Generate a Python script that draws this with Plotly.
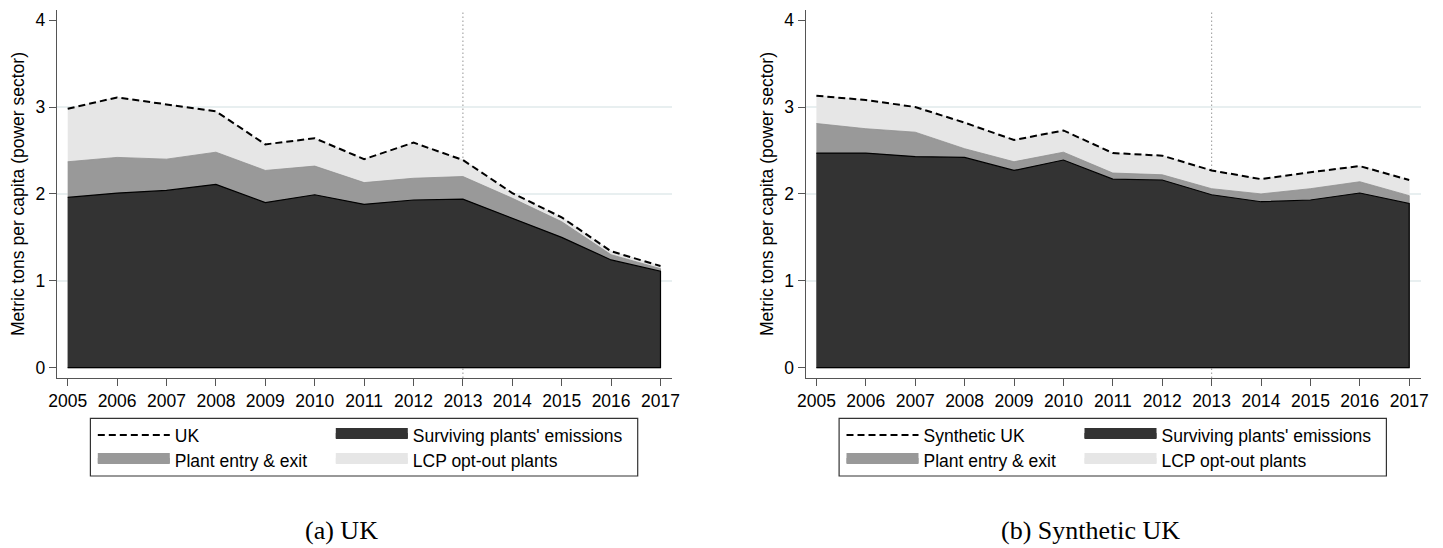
import plotly.graph_objects as go

# ---------------- data ----------------
years = [2005, 2006, 2007, 2008, 2009, 2010, 2011, 2012, 2013, 2014, 2015, 2016, 2017]
year_labels = [str(y) for y in years]
y_tick_values = [0, 1, 2, 3, 4]
y_tick_labels = ["0", "1", "2", "3", "4"]
grid_values = [1, 2, 3]
treatment_year = 2013

# cumulative levels (metric tons per capita, power sector)
uk_surviving = [1.96, 2.01, 2.04, 2.11, 1.90, 1.99, 1.88, 1.93, 1.94, 1.72, 1.50, 1.24, 1.11]
uk_with_entry_exit = [2.37, 2.42, 2.40, 2.48, 2.27, 2.32, 2.13, 2.18, 2.20, 1.95, 1.68, 1.30, 1.14]
uk_total = [2.98, 3.11, 3.03, 2.95, 2.57, 2.64, 2.40, 2.59, 2.39, 2.01, 1.73, 1.34, 1.17]

syn_surviving = [2.47, 2.47, 2.43, 2.42, 2.27, 2.39, 2.17, 2.16, 1.99, 1.91, 1.93, 2.01, 1.89]
syn_with_entry_exit = [2.81, 2.75, 2.71, 2.52, 2.37, 2.48, 2.24, 2.22, 2.06, 2.00, 2.06, 2.14, 1.98]
syn_total = [3.13, 3.08, 3.00, 2.82, 2.62, 2.73, 2.47, 2.44, 2.27, 2.17, 2.25, 2.32, 2.16]

line_names = ["UK", "Synthetic UK"]
label_surviving = "Surviving plants' emissions"
label_entry_exit = "Plant entry & exit"
label_opt_out = "LCP opt-out plants"
captions = ["(a) UK", "(b) Synthetic UK"]
y_title = "Metric tons per capita (power sector)"

# ---------------- styles ----------------
W, H = 1443, 548
FONT = "Liberation Sans, Arial, sans-serif"
SERIF = "Liberation Serif, Times New Roman, serif"
FS = 17.5
C_DARK = "#333333"
C_MID = "#999999"
C_LIGHT = "#e6e6e6"
C_GRID = "#e8eff0"
C_AXIS = "#555555"


def fx(px):
    return px / W


def fy(py):
    return 1 - py / H


panel_left = [57.0, 805.7]
panel_width = 615.0
panel_top, panel_bottom = 10.0, 378.0
x_first_px, year_step_px = 10.7, 49.4
y_zero_px, unit_px = 367.7, 86.9

x_lo = years[0] - x_first_px / year_step_px
x_hi = x_lo + panel_width / year_step_px
y_lo = -(panel_bottom - y_zero_px) / unit_px
y_hi = (y_zero_px - panel_top) / unit_px

fig = go.Figure()

panels = [
    (uk_total, uk_with_entry_exit, uk_surviving, line_names[0]),
    (syn_total, syn_with_entry_exit, syn_surviving, line_names[1]),
]

for i, (total, mid, surv, lname) in enumerate(panels):
    xa = "x" if i == 0 else "x2"
    ya = "y" if i == 0 else "y2"
    leg_top = "legend" if i == 0 else "legend3"
    leg_bot = "legend2" if i == 0 else "legend4"
    poly_x = years + years[::-1]
    zeros = [0] * len(years)
    for level, fillc, linec, lw in [
        (total, C_LIGHT, C_LIGHT, 0.8),
        (mid, C_MID, "#8f8f8f", 0.8),
        (surv, C_DARK, "#000000", 1.2),
    ]:
        fig.add_trace(go.Scatter(
            x=poly_x, y=level + zeros, xaxis=xa, yaxis=ya,
            mode="lines", fill="toself", fillcolor=fillc,
            line=dict(color=linec, width=lw), showlegend=False, hoverinfo="skip"))
    fig.add_trace(go.Scatter(
        x=years, y=total, xaxis=xa, yaxis=ya, mode="lines", name=lname,
        line=dict(color="black", width=2, dash="7px,4px"),
        legend=leg_top, legendrank=1, legendwidth=151))
    # legend swatches
    for name, col, leg, rank, lwid in [
        (label_surviving, C_DARK, leg_top, 2, 260),
        (label_entry_exit, C_MID, leg_bot, 1, 151),
        (label_opt_out, C_LIGHT, leg_bot, 2, 260),
    ]:
        fig.add_trace(go.Scatter(
            x=[None], y=[None], xaxis=xa, yaxis=ya, mode="lines", name=name,
            fill="toself", fillcolor=col, line=dict(color=col, width=10),
            legend=leg, legendrank=rank, legendwidth=lwid, hoverinfo="skip"))

axis_common = dict(
    showline=True, linecolor=C_AXIS, linewidth=1.3,
    ticks="outside", ticklen=7, tickcolor=C_AXIS, tickwidth=1.3,
    tickfont=dict(family=FONT, size=FS, color="black"),
    zeroline=False, fixedrange=True, automargin=False,
)

layout = dict(
    width=W, height=H, margin=dict(l=0, r=0, t=0, b=0),
    paper_bgcolor="white", plot_bgcolor="white",
    font=dict(family=FONT, size=FS, color="black"),
    hovermode=False,
    shapes=[], annotations=[],
)

for i in range(2):
    sx = "" if i == 0 else "2"
    left = panel_left[i]
    layout["xaxis" + sx] = dict(
        domain=[fx(left), fx(left + panel_width)], anchor="y" + sx,
        range=[x_lo, x_hi], tickmode="array", tickvals=years, ticktext=year_labels,
        showgrid=False, **axis_common)
    layout["yaxis" + sx] = dict(
        domain=[fy(panel_bottom), fy(panel_top)], anchor="x" + sx,
        range=[y_lo, y_hi], tickmode="array", tickvals=y_tick_values, ticktext=y_tick_labels,
        showgrid=False,
        minor=dict(tickmode="array", tickvals=grid_values, showgrid=True,
                   gridcolor=C_GRID, gridwidth=1.6, ticks=""),
        title=dict(text=y_title, font=dict(family=FONT, size=FS, color="black"), standoff=6),
        ticklabelstandoff=0,
        **axis_common)
    # treatment year marker
    layout["shapes"].append(dict(
        type="line", xref="x" + sx, yref="y" + sx + " domain",
        x0=treatment_year, x1=treatment_year, y0=0, y1=0.995,
        line=dict(color="#a8a8a8", width=1.2, dash="1.5px,2.5px"), layer="below"))
    # legend frame
    lx0 = 90.4 + (left - panel_left[0])
    layout["shapes"].append(dict(
        type="rect", xref="paper", yref="paper",
        x0=fx(lx0), x1=fx(lx0 + 547.3), y0=fy(476.0), y1=fy(418.3),
        line=dict(color="#333333", width=1.2), fillcolor="rgba(0,0,0,0)", layer="above"))
    # caption
    layout["annotations"].append(dict(
        text=captions[i], xref="paper", yref="paper",
        x=fx(341.5 + (left - panel_left[0])), y=fy(530.0), xanchor="center", yanchor="middle",
        showarrow=False, font=dict(family=SERIF, size=26, color="black")))

legend_common = dict(
    orientation="h", itemwidth=72, entrywidth=151, entrywidthmode="pixels",
    font=dict(family=FONT, size=FS, color="black"), bgcolor="rgba(0,0,0,0)",
    borderwidth=0, xanchor="left", yanchor="middle", traceorder="normal",
    itemclick=False, itemdoubleclick=False,
)
for i in range(2):
    offset = panel_left[i] - panel_left[0]
    top_name = "legend" if i == 0 else "legend3"
    bot_name = "legend2" if i == 0 else "legend4"
    layout[top_name] = dict(x=fx(92.8 + offset), y=fy(435.0), **legend_common)
    layout[bot_name] = dict(x=fx(92.8 + offset), y=fy(460.0), **legend_common)

fig.update_layout(**layout)
fig.write_html("out.html", config={"displayModeBar": False},
               post_script="document.body.style.margin='0px';")
